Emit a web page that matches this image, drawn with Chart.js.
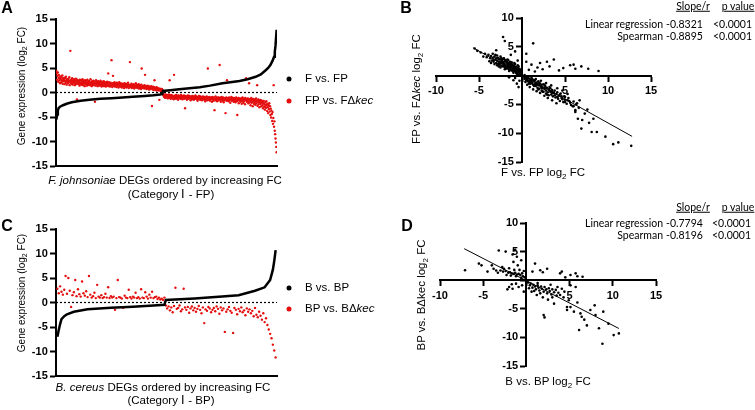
<!DOCTYPE html>
<html>
<head>
<meta charset="utf-8">
<script src="https://cdn.jsdelivr.net/npm/chart.js@4.4.0/dist/chart.umd.min.js"></script>
<style>
  body { margin: 0; width: 755px; height: 410px; position: relative; background: #fff; overflow: hidden;
         font-family: "Liberation Sans", Arial, sans-serif; color: #000; }
  canvas { position: absolute; }
  .c, .lft, .rgt, .v { position: absolute; white-space: nowrap; line-height: 1; }
  .c { transform: translate(-50%, -50%); }
  .lft { transform: translateY(-50%); }
  .rgt { transform: translate(-100%, -50%); }
  .v { transform: translate(-50%, -50%) rotate(-90deg); }
  .panel { font-weight: bold; font-size: 16px; }
  .ttl { font-size: 11.5px; }
  .ytl { font-size: 10px; }
  .leg { font-size: 11.5px; }
  .st { font-family: Lato, "Open Sans", sans-serif; font-size: 10.5px; }
  .u { text-decoration: underline; }
  sub { font-size: 70%; vertical-align: -0.3em; line-height: 0; }
  .dot { position: absolute; width: 5px; height: 5px; border-radius: 50%; transform: translate(-50%, -50%); }
</style>
</head>
<body>
<canvas id="chartA" width="380" height="200" style="left:0;top:0"></canvas>
<canvas id="chartB" width="375" height="200" style="left:380px;top:0"></canvas>
<canvas id="chartC" width="380" height="210" style="left:0;top:200px"></canvas>
<canvas id="chartD" width="375" height="210" style="left:380px;top:200px"></canvas>

<div class="c panel" style="left:7px;top:8px">A</div>
<div class="c panel" style="left:406px;top:8px">B</div>
<div class="c panel" style="left:7px;top:226px">C</div>
<div class="c panel" style="left:407px;top:226px">D</div>

<!-- A -->
<div class="v ytl" style="left:22px;top:86px">Gene expression (log<sub>2</sub> FC)</div>
<div class="c ttl" style="left:165px;top:181px"><i>F. johnsoniae</i> DEGs ordered by increasing FC</div>
<div class="c ttl" style="left:171px;top:195px">(Category Ⅰ - FP)</div>
<div class="dot" style="left:289px;top:79px;background:#000"></div>
<div class="lft leg" style="left:305px;top:79px">F vs. FP</div>
<div class="dot" style="left:289px;top:101px;background:rgb(228,14,14)"></div>
<div class="lft leg" style="left:305px;top:101px">FP vs. FΔ<i>kec</i></div>

<!-- B -->
<div class="v ttl" style="left:417px;top:89px">FP vs. FΔ<i>kec</i> log<sub>2</sub> FC</div>
<div class="c ttl" style="left:543px;top:173px">F vs. FP log<sub>2</sub> FC</div>
<div class="c st u" style="left:693px;top:6px">Slope/r</div>
<div class="c st u" style="left:738px;top:6px">p value</div>
<div class="rgt st" style="left:663px;top:24px">Linear regression</div>
<div class="rgt st" style="left:663px;top:36px">Spearman</div>
<div class="lft st" style="left:666px;top:24px">-0.8321</div>
<div class="lft st" style="left:666px;top:36px">-0.8895</div>
<div class="lft st" style="left:713px;top:24px">&lt;0.0001</div>
<div class="lft st" style="left:713px;top:36px">&lt;0.0001</div>

<!-- C -->
<div class="v ytl" style="left:22px;top:293px">Gene expression (log<sub>2</sub> FC)</div>
<div class="c ttl" style="left:163px;top:388px"><i>B. cereus</i> DEGs ordered by increasing FC</div>
<div class="c ttl" style="left:171px;top:401px">(Category Ⅰ - BP)</div>
<div class="dot" style="left:289px;top:288px;background:#000"></div>
<div class="lft leg" style="left:305px;top:288px">B vs. BP</div>
<div class="dot" style="left:289px;top:309px;background:rgb(228,14,14)"></div>
<div class="lft leg" style="left:305px;top:309px">BP vs. BΔ<i>kec</i></div>

<!-- D -->
<div class="v ttl" style="left:422px;top:295px">BP vs. BΔkec log<sub>2</sub> FC</div>
<div class="c ttl" style="left:548px;top:382px">B vs. BP log<sub>2</sub> FC</div>
<div class="c st u" style="left:693px;top:207px">Slope/r</div>
<div class="c st u" style="left:738px;top:207px">p value</div>
<div class="rgt st" style="left:663px;top:223px">Linear regression</div>
<div class="rgt st" style="left:663px;top:235px">Spearman</div>
<div class="lft st" style="left:666px;top:223px">-0.7794</div>
<div class="lft st" style="left:666px;top:235px">-0.8196</div>
<div class="lft st" style="left:712px;top:223px">&lt;0.0001</div>
<div class="lft st" style="left:712px;top:235px">&lt;0.0001</div>

<script>
// ---- Panel A: F. johnsoniae, genes ordered by F vs. FP (gene rank 0..599)
const rankA = [0, 2, 4, 6, 10, 18, 28, 42, 66, 90, 120, 150, 180, 208, 240, 264, 282, 288, 290, 310,
  334, 362, 390, 418, 452, 478, 498, 520, 542, 556, 570, 576, 582, 588, 592, 594, 596, 599];
const fVsFp = [-5.5, -4.5, -3.7, -3.2, -2.9, -2.6, -2.3, -2.0, -1.7, -1.5, -1.3, -1.15, -1.0, -0.85, -0.7, -0.55, -0.4, -0.3, 0.3, 0.45,
  0.65, 0.85, 1.05, 1.4, 1.9, 2.15, 2.35, 2.7, 3.2, 3.7, 4.6, 5.0, 5.6, 6.5, 7.3, 8.3, 9.6, 12.8];
const fpVsFdkec = [
  4.4, 3.9, 2.6, 3.4, 4.1, 2.2, 3.0, 3.6, 2.5, 2.9, 1.9, 3.3, 2.7, 2.1, 3.1, 2.4, 3.5, 1.8, 2.8, 2.3,
  2.6, 3.0, 1.7, 2.4, 2.9, 2.0, 3.2, 2.3, 1.6, 2.7, 2.1, 2.5, 1.9, 2.8, 2.2, 3.1, 1.5, 2.4, 8.5, 2.0,
  2.6, 1.8, 2.3, 2.9, 1.6, 2.1, 2.5, 1.9, 2.7, 2.2, 1.5, 2.4, 2.0, 2.8, 1.7, 2.3, -1.4, 2.6, 1.9, 2.1,
  2.4, 1.7, 2.2, 1.4, 2.6, 2.0, 1.8, 2.5, 1.6, 2.3, 1.9, 2.7, 1.5, 2.1, 2.4, 1.8, 2.0, 1.3, 2.5, 2.2,
  1.7, 2.3, 1.9, 1.4, 2.6, 2.0, 1.6, 2.2, 1.8, 2.4, 1.5, 2.1, 1.9, 2.7, 1.6, 2.0, 1.3, 2.3, 1.8, 2.1,
  1.5, 2.4, 1.9, 1.7, 2.2, -1.9, 1.4, 2.0, 2.5, 1.6, 1.9, 2.2, 1.3, 1.8, 2.3, 1.6, 2.0, 1.4, 2.1, 1.7,
  2.4, 1.5, 1.9, 1.2, 2.2, 1.7, 1.4, 2.0, 1.6, 2.3, 1.3, 1.8, 2.1, 1.5, 1.9, 1.2, 2.0, 1.6, 2.2, 1.4,
  1.8, 3.9, 1.3, 2.1, 1.5, 1.9, 1.2, 1.7, 2.0, 1.4, 6.6, 1.6, 1.1, 1.9, 3.4, 1.5, 1.8, 1.3, 2.1, 1.6,
  1.2, 1.9, 1.5, 1.7, 1.1, 2.0, 1.4, 1.6, 1.8, 1.0, 1.5, 2.1, 1.3, 1.7, 1.2, 1.9, 1.4, 1.6, 1.0, 1.8,
  1.4, 1.2, 1.7, 1.5, 0.9, 1.9, 1.3, 1.6, 1.1, 1.8, 1.4, 1.0, 1.7, 1.2, 1.5, 2.0, 1.3, 0.9, 1.6, 1.4,
  6.2, 1.1, 1.5, 1.3, 1.8, 0.9, 1.4, 1.2, 1.6, 1.0, 1.7, 1.3, 0.8, 1.5, 1.1, 1.4, 1.9, 1.0, 1.3, 1.6,
  1.2, 0.9, 1.4, 1.1, 1.7, 0.8, 1.3, 1.5, 1.0, 1.2, 0.7, 1.6, 4.9, 1.1, 1.3, 0.9, 1.4, 1.0, 1.2, 0.8,
  1.5, 3.6, 1.1, 0.9, 1.3, 0.7, 1.2, 1.0, 1.4, 0.8, 1.1, 1.3, 0.6, 1.0, 1.2, 0.9, 0.7, 1.1, 1.3, 0.8,
  -2.75, 1.0, 0.6, 1.2, 0.9, 0.5, 1.1, 2.5, 0.8, 1.0, 0.6, 0.9, 0.4, 1.1, 0.7, 0.8, 0.5, 0.9, 0.6, 0.4,
  -1.5, 0.8, 0.5, 0.7, 0.3, 0.6, 0.4, 0.7, 0.3, 0.5, -0.3, -0.6, -0.4, -0.9, -0.5, -0.7, -1.1, -0.4, -0.8, -0.6,
  -1.0, -0.5, -0.8, -1.2, -0.6, -0.9, -0.4, -1.1, 2.5, -0.7, -0.9, -1.3, -0.5, -0.8, -1.0, -0.6, -1.2, -0.7, -0.9, -1.4,
  3.6, -0.8, -1.1, -0.6, -0.9, -1.3, -0.5, -1.0, -0.7, -1.2, -0.9, -1.5, -0.6, -1.0, -0.8, -1.1, -0.7, -1.3, -0.9, -0.5,
  -1.2, -0.8, -1.0, -1.4, -0.7, -0.9, -1.1, -0.6, -1.3, -0.8, -3.2, -1.0, -0.7, -1.2, -0.9, -1.5, -0.8, -1.1, -0.6, -1.0,
  -1.3, -0.9, -0.7, -1.2, -1.0, -1.6, -0.8, -1.1, -0.9, -1.4, -0.7, -1.0, -1.2, -0.8, -1.5, -1.1, -0.9, -1.3, -0.6, -1.0,
  -1.2, -0.8, -1.4, -1.0, -1.7, -0.9, -1.1, -1.3, -0.7, -1.2, -1.0, -1.5, -0.8, -1.1, -1.4, -0.9, -1.6, -1.0, -1.2, -0.8,
  -1.3, -1.1, -1.5, -0.9, -1.2, -1.8, -1.0, -1.4, -1.1, -0.8, -1.3, -1.6, 4.9, -1.0, -1.2, -1.5, -0.9, -1.3, -1.7, -1.1,
  -1.4, -1.0, -1.2, -1.9, -0.9, -1.3, -1.5, -1.1, -1.7, -1.0, -3.6, -1.2, -1.4, -0.8, -1.6, -1.3, -1.1, -1.8, -1.0, -1.4,
  -1.2, -1.6, -1.0, -1.3, 5.6, -1.5, -1.1, -1.9, -1.3, -0.9, -1.4, -1.7, -1.2, -1.0, -1.5, -2.0, -1.1, -1.3, -1.6, -1.2,
  -4.2, -1.4, -1.0, -1.7, 2.5, -1.2, -1.5, -1.1, -1.8, -1.3, -1.0, -1.6, -1.4, -2.1, -1.2, -1.5, -0.9, -1.7, -1.3, -1.1,
  -1.6, -1.3, -1.9, -1.1, -1.4, -1.7, -1.2, -2.0, -1.5, -1.0, -1.4, -1.8, -4.6, -1.3, -1.6, -1.1, -2.2, -1.4, -1.2, -1.7,
  -1.5, -1.9, -1.2, -1.6, -2.3, -1.3, -1.0, -1.8, -1.4, -2.1, -1.2, -1.7, -1.5, -2.4, -1.1, -1.6, 2.9, -1.3, -1.9, -1.5,
  -1.8, -1.2, -2.2, -1.6, 1.9, -1.4, -2.0, -1.3, -2.6, -1.7, -1.1, -2.1, -1.5, -1.9, -2.8, -1.3, -1.7, -2.3, -1.5, -2.0,
  -1.4, -2.5, -1.8, -1.2, -2.2, -1.6, 1.5, -2.7, -1.9, -1.4, -2.4, -1.7, -3.0, -2.0, -1.5, -2.3, -1.8, -2.8, -1.6, -2.1,
  -2.6, -1.9, -3.2, -2.2, -1.7, -2.9, -2.4, -3.5, -2.0, -2.7, -3.1, -1.8, -2.5, -3.8, -2.3, -3.0, -4.2, -2.6, -3.4, -2.2,
  -3.9, -2.8, -4.6, -3.3, -5.1, -3.7, -4.4, -5.8, -4.0, -6.4, -5.2, 1.5, -7.0, -5.9, -7.8, -8.5, -9.4, -10.2, -11.1, -12.2
];

// ---- Panel C: B. cereus, genes ordered by B vs. BP (gene rank 0..159)
const rankC = [0, 1, 2, 3, 5, 7, 12, 22, 39, 55, 70, 78, 79, 100, 120, 132, 144, 151, 155, 157, 158, 159];
const bVsBp = [-7.0, -5.6, -4.4, -3.4, -2.8, -2.4, -1.9, -1.4, -1.05, -0.85, -0.6, -0.45, 0.5, 0.8, 1.2, 1.5, 2.4, 3.1, 4.6, 6.7, 8.5, 10.7];
const bpVsBdkec = [
  2.8, 1.9, 3.3, 2.2, 1.6, 2.6, 5.4, 1.8, 5.0, 2.4, -0.9, 1.5, 2.1, 4.6, 1.3, 2.7, 1.7, 1.2, 4.3, 1.9,
  1.4, 2.3, 1.1, 5.4, 1.6, 1.0, 1.3, 2.0, 0.9, 3.6, 1.2, 1.0, 1.5, 0.9, 1.1, 1.8, 1.0, 3.1, 0.9, 1.3,
  1.0, 1.2, -1.5, 0.9, 4.6, 1.1, 1.0, 0.8, -1.1, 1.4, 1.0, 0.9, 2.6, 1.1, 0.8, 1.2, 1.0, 2.0, 0.9, 1.1,
  0.8, 2.7, 1.0, 0.9, 2.1, 1.2, 0.8, 1.6, 1.0, 2.2, 0.9, 1.1, 1.2, 0.7, 1.0, 0.6, 0.8, 0.5, 1.0, -0.6,
  -1.2, -0.8, -1.6, -1.0, -2.0, -0.7, 3.0, -1.3, -1.1, -0.6, -1.8, -1.4, 2.8, -1.0, -1.5, -0.9, -2.1, -1.2, -0.8, -1.6,
  -1.1, -1.9, -1.3, -0.7, -1.5, -2.2, -1.0, -4.2, -1.4, -1.7, -0.9, -1.2, -2.0, -1.5, -1.1, -1.8, -0.8, -1.3, -2.3, -1.0,
  -1.6, -1.2, -6.0, -1.9, -1.4, -0.9, -1.7, -2.1, -6.2, -1.1, -1.5, -2.4, -1.3, -1.8, -1.0, -2.0, -1.6, -2.6, -1.2, -1.9,
  -1.4, -2.2, -1.7, -2.8, -1.1, -2.5, -3.0, -1.9, -2.7, -3.5, -2.2, -4.0, -3.2, -4.6, -5.5, -6.4, -7.3, -8.6, -9.8, -11.2
];

// ---- Panel B: (F vs. FP, FP vs. FΔkec) pairs
const bUpperLeft = [
  [-3.9, 3.6], [-3.7, 3.0], [-3.6, 3.4], [-3.5, 2.6], [-3.4, 3.1], [-3.3, 2.4], [-3.2, 3.3], [-3.1, 2.8], [-3.0, 2.2], [-3.0, 3.0],
  [-2.9, 2.6], [-2.8, 2.0], [-2.8, 3.1], [-2.7, 2.4], [-2.6, 2.8], [-2.6, 1.9], [-2.5, 2.3], [-2.4, 2.7], [-2.4, 1.7], [-2.3, 2.1],
  [-2.3, 2.5], [-2.2, 1.6], [-2.2, 2.9], [-2.1, 2.0], [-2.0, 2.4], [-2.0, 1.5], [-1.9, 1.8], [-1.9, 2.6], [-1.8, 1.3], [-1.8, 2.1],
  [-1.7, 1.7], [-1.7, 2.3], [-1.6, 1.2], [-1.6, 1.9], [-1.5, 1.5], [-1.5, 2.2], [-1.4, 1.1], [-1.4, 1.7], [-1.3, 1.4], [-1.3, 2.0],
  [-1.2, 0.9], [-1.2, 1.6], [-1.1, 1.2], [-1.1, 1.9], [-1.0, 0.8], [-1.0, 1.4], [-0.9, 1.1], [-0.9, 1.7], [-0.8, 0.7], [-0.8, 1.3],
  [-0.7, 0.9], [-0.7, 1.5], [-0.6, 0.6], [-0.6, 1.1], [-0.5, 0.8], [-0.5, 1.3], [-0.4, 0.5], [-0.4, 0.9], [-0.3, 0.4], [-0.3, 0.7],
  [-0.25, 1.0], [-0.2, 0.3], [-0.2, 0.6], [-3.8, 2.5], [-4.1, 3.2], [-4.3, 3.8], [-4.5, 3.3], [-4.8, 4.0], [-5.2, 4.3], [-3.4, 3.8],
  [-2.9, 3.5], [-2.5, 3.3], [-2.1, 3.0], [-1.6, 2.7], [-1.2, 2.3], [-0.8, 2.0], [-0.4, 1.6], [-2.7, 1.6], [-2.0, 1.1], [-1.5, 0.8],
  [-1.0, 0.5], [-0.6, 0.3], [-3.2, 2.0], [-2.9, 1.8], [-2.5, 1.4], [-2.2, 2.3], [-1.9, 1.2], [-1.7, 2.8], [-1.4, 2.4], [-1.1, 0.9],
  [-0.9, 2.2], [-0.7, 0.5], [-0.5, 1.8], [-0.3, 1.2], [-2.4, 3.0], [-3.6, 2.2], [-3.1, 3.6], [-2.6, 2.1], [-2.0, 2.7], [-1.3, 1.0],
  [-1.0, 1.7], [-0.6, 0.9], [-0.2, 0.9], [-0.4, 0.2], [-1.6, 1.5], [-2.1, 1.7], [-2.7, 2.9], [-3.3, 2.7], [-1.8, 2.4], [-1.2, 1.9],
  [-0.8, 1.1], [-1.5, 1.9]
];
const bLowerRight = [
  [0.2, -0.2], [0.3, -0.6], [0.4, -0.3], [0.5, -0.8], [0.6, -0.4], [0.7, -1.0], [0.8, -0.5], [0.9, -1.2], [1.0, -0.7], [1.0, -1.4],
  [1.1, -0.9], [1.2, -1.3], [1.2, -0.6], [1.3, -1.6], [1.4, -1.0], [1.5, -1.5], [1.5, -0.8], [1.6, -1.8], [1.7, -1.2], [1.8, -1.6],
  [1.8, -2.1], [1.9, -1.0], [2.0, -1.7], [2.0, -2.3], [2.1, -1.4], [2.2, -2.0], [2.3, -1.6], [2.3, -2.6], [2.4, -2.1], [2.5, -1.5],
  [2.5, -2.8], [2.6, -2.3], [2.7, -1.8], [2.8, -2.6], [2.8, -3.1], [2.9, -2.1], [3.0, -2.9], [3.1, -2.4], [3.1, -3.4], [3.2, -2.0],
  [3.3, -2.8], [3.4, -3.3], [3.5, -2.5], [3.6, -3.6], [3.7, -3.0], [3.8, -2.6], [3.9, -3.8], [4.0, -3.2], [4.1, -2.9], [4.2, -4.0],
  [4.3, -3.5], [4.4, -4.4], [4.5, -3.1], [4.6, -3.9], [4.8, -4.6], [4.9, -3.6], [5.0, -4.2], [5.2, -4.9], [5.4, -3.9], [5.6, -4.7],
  [0.4, -1.1], [0.6, -1.6], [0.9, -2.0], [1.3, -2.4], [1.7, -2.7], [2.1, -3.0], [2.6, -3.5], [3.0, -3.9], [3.5, -4.3], [4.0, -4.8],
  [0.3, 0.1], [0.7, -0.2], [1.1, -0.4], [1.6, -0.6], [2.2, -0.9], [2.8, -1.3], [3.4, -1.7], [4.1, -2.2], [4.7, -2.6], [5.3, -3.2],
  [0.5, -0.5], [0.8, -1.4], [1.1, -1.1], [1.4, -1.8], [1.6, -1.3], [1.9, -2.4], [2.2, -1.8], [2.4, -2.8], [2.7, -2.2], [2.9, -3.3],
  [3.2, -2.6], [3.5, -3.0], [3.8, -3.4], [4.1, -3.7], [4.4, -3.3], [4.7, -4.1], [5.0, -4.6], [5.3, -4.3], [5.7, -5.1], [6.0, -4.5],
  [1.0, -1.0], [1.3, -0.8], [2.0, -1.3], [2.6, -1.6], [3.3, -2.2], [0.6, -0.7], [0.9, -0.9], [1.7, -1.5], [2.3, -2.2], [3.6, -2.9],
  [4.6, -3.6], [5.5, -4.4], [6.3, -5.0], [6.6, -5.6]
];
const bScattered = [
  [5.9, -5.3], [6.2, -6.0], [6.5, -7.5], [6.7, -4.3], [6.2, -6.3], [7.3, -6.6], [6.9, -9.2], [8.1, -9.8], [8.7, -9.8], [9.7, -10.6],
  [10.6, -11.9], [11.2, -11.6], [12.7, -12.2], [8.3, -7.5], [6.0, -5.3], [5.0, -3.7], [7.8, -8.2], [7.0, -7.7], [6.4, -4.8], [7.6, -5.9],
  [0.5, 2.4], [1.3, 5.6], [1.1, 1.9], [2.9, 2.4], [3.7, 2.8], [5.6, 1.8], [6.2, 1.2], [6.9, 1.6], [7.7, 1.2], [8.9, 0.8],
  [6.0, 1.9], [0.5, 3.8], [1.8, 1.4], [2.4, 1.1], [3.2, 1.6], [4.3, 0.9], [1.5, 0.7], [2.1, 2.2], [0.8, 1.0], [4.8, 1.3],
  [-2.2, 6.7], [-2.0, 6.0], [-0.8, 4.2], [-1.3, 3.6], [-1.0, -0.8], [-0.6, -1.4], [-0.8, -0.4], [-1.5, -0.3], [-0.3, -0.9], [-0.4, -2.0],
  [-5.5, 4.7], [-3.0, 4.4], [-0.5, 2.6]
];
const slopeB = -0.8321;
const interceptB = 0.1;
const fitRangeB = [-5.7, 12.8];

// ---- Panel D: (B vs. BP, BP vs. BΔkec) pairs
const dUpperLeft = [
  [-7.1, 1.75], [-5.5, 2.9], [-5.2, 2.6], [-4.5, 1.5], [-3.8, 2.0], [-3.5, 1.7], [-3.2, 5.2], [-2.4, 5.0], [-1.6, 4.5], [-1.3, 5.3],
  [-1.1, 4.1], [-1.5, 3.2], [-3.0, 1.7], [-2.7, 1.5], [-2.4, 1.6], [-2.1, 1.3], [-1.9, 1.4], [-1.7, 1.2], [-1.5, 1.1], [-1.3, 1.3],
  [-1.1, 1.0], [-0.9, 1.1], [-0.7, 0.9], [-0.5, 1.2], [-0.4, 0.7], [-0.3, 1.6], [-0.2, 0.5], [-2.8, 2.3], [-2.0, 2.1], [-1.0, 2.6],
  [-0.6, 3.5], [-0.8, 1.8], [-4.0, 2.6], [-2.3, 0.9], [-1.8, 0.8], [-1.2, 0.7], [-0.6, 0.4], [-3.3, 1.3], [-2.6, 2.0], [-1.4, 1.8]
];
const dOther = [
  [-2.0, -1.2], [-1.6, -1.5], [-0.9, -1.2], [-0.5, -0.9], [-2.2, -1.6], [-1.2, -0.6], [-0.3, -2.0], [-1.7, -0.7],
  [0.7, 1.5], [1.6, 1.75], [1.9, 1.4], [1.0, 2.9], [2.4, 2.0], [3.9, 1.2], [4.1, 1.5], [5.1, 0.9], [5.7, 1.2], [5.9, 0.7],
  [6.5, 0.6], [4.5, 0.5]
];
const dLowerRight = [
  [0.2, -0.4], [0.4, -0.9], [0.5, -0.6], [0.7, -1.3], [0.8, -0.8], [1.0, -1.1], [1.1, -1.6], [1.3, -0.9], [1.4, -1.3], [1.5, -1.8],
  [1.7, -1.1], [1.8, -1.5], [2.0, -2.0], [2.1, -1.2], [2.3, -1.6], [2.4, -2.3], [2.6, -1.4], [2.7, -1.9], [2.9, -2.5], [3.0, -1.6],
  [3.2, -2.1], [3.4, -1.7], [3.5, -2.7], [3.7, -2.2], [3.9, -2.6], [0.6, -2.0], [1.2, -2.6], [1.9, -3.0], [2.5, -3.4], [3.2, -4.1],
  [4.7, -4.7], [2.0, -6.1], [2.1, -6.5], [4.9, -3.5], [5.1, -4.7], [6.25, -5.8], [6.4, -6.4], [6.1, -8.7], [7.4, -5.2], [8.0, -6.1],
  [8.9, -5.5], [8.4, -8.4], [8.8, -11.1], [10.1, -9.6], [10.7, -9.3], [9.5, -7.6], [5.5, -5.5], [4.7, -5.2], [7.0, -7.9], [6.7, -6.9],
  [5.7, -1.2], [5.1, -0.9], [4.1, -1.5], [4.4, -2.0], [5.9, -3.9], [4.3, -3.0], [3.0, -3.0], [1.6, -2.3], [2.8, -0.8], [0.9, -1.9],
  [1.3, -0.5], [7.9, -4.4], [3.6, -1.2], [0.3, -1.4]
];
const slopeD = -0.7794;
const interceptD = -0.1;
const fitRangeD = [-7.2, 10.7];

const profileTicks = [-15, 15, 5];   // min, max, step
const RED = "rgb(228,14,14)";
const tickFont = { family: "Liberation Sans", size: 11, weight: 700 };

// y labels of data-positioned axes sit on the axis line, so push them left a bit
const yLabel = v => (v === 0 ? "" : v + "\u2002\u2005");
const xLabel = v => (v === 0 ? "" : String(v));

function axisStyle() {
  return {
    grid: { drawOnChartArea: false, drawTicks: true, tickLength: 5, tickColor: "#000", tickWidth: 2 },
    border: { display: true, color: "#000", width: 2 },
  };
}

function profileChart(id, pad, ranks, black, red) {
  const n = red.length;
  return new Chart(document.getElementById(id), {
    type: "scatter",
    data: {
      datasets: [
        { data: ranks.map((r, i) => ({ x: r, y: black[i] })), showLine: true,
          borderColor: "#000", borderWidth: 2.5, pointRadius: 0 },
        { data: [{ x: -1, y: 0 }, { x: n, y: 0 }], showLine: true,
          borderColor: "#000", borderWidth: 1.2, borderDash: [2, 2], pointRadius: 0 },
        { data: red.map((v, i) => ({ x: i, y: v })), pointRadius: 1.2,
          pointBackgroundColor: RED, pointBorderWidth: 0 },
      ],
    },
    options: {
      responsive: false, animation: false,
      layout: { padding: pad },
      plugins: { legend: { display: false }, tooltip: { enabled: false } },
      scales: {
        x: { type: "linear", min: -1, max: n, position: { y: profileTicks[0] },
             ticks: { display: false }, grid: { display: false },
             border: { display: true, color: "#000", width: 2 } },
        y: { type: "linear", min: profileTicks[0], max: profileTicks[1], position: { x: -1 },
             ticks: { stepSize: profileTicks[2], color: "#000", font: tickFont,
                      callback: v => v + "\u2002\u2005" },
             ...axisStyle() },
      },
    },
  });
}

function scatterChart(id, pad, clouds, slope, intercept, range) {
  const pts = clouds.flat().map(p => ({ x: p[0], y: p[1] }));
  const fit = range.map(x => ({ x: x, y: slope * x + intercept }));
  return new Chart(document.getElementById(id), {
    type: "scatter",
    data: {
      datasets: [
        { data: fit, showLine: true, borderColor: "#000", borderWidth: 1, pointRadius: 0 },
        { data: pts, pointRadius: 1.3, pointBackgroundColor: "#000", pointBorderWidth: 0 },
      ],
    },
    options: {
      responsive: false, animation: false,
      layout: { padding: pad },
      plugins: { legend: { display: false }, tooltip: { enabled: false } },
      scales: {
        x: { type: "linear", min: -10, max: 15, position: { y: 0 },
             ticks: { stepSize: 5, color: "#000", font: tickFont, padding: 4, callback: xLabel },
             ...axisStyle() },
        y: { type: "linear", min: -15, max: 10, position: { x: 0 },
             ticks: { stepSize: 5, color: "#000", font: tickFont, callback: yLabel },
             ...axisStyle() },
      },
    },
  });
}

profileChart("chartA", { left: 56, right: 103, top: 19, bottom: 34 }, rankA, fVsFp, fpVsFdkec);
profileChart("chartC", { left: 56, right: 103, top: 29, bottom: 34 }, rankC, bVsBp, bpVsBdkec);
scatterChart("chartB", { left: 56, right: 104, top: 18, bottom: 38 },
  [bUpperLeft, bLowerRight, bScattered], slopeB, interceptB, fitRangeB);
scatterChart("chartD", { left: 60, right: 99, top: 23, bottom: 44 },
  [dUpperLeft, dOther, dLowerRight], slopeD, interceptD, fitRangeD);
</script>
</body>
</html>
